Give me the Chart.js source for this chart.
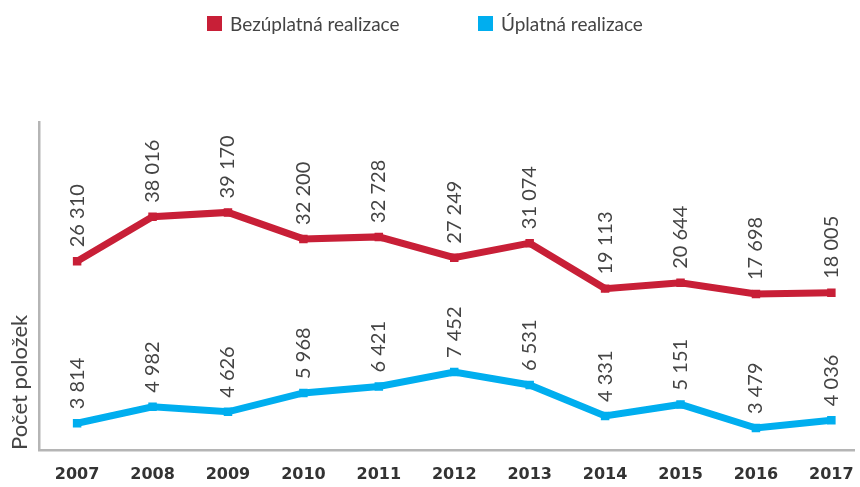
<!DOCTYPE html>
<html>
<head>
<meta charset="utf-8">
<script src="https://cdn.jsdelivr.net/npm/chart.js@4.4.0/dist/chart.umd.min.js"></script>
<style>
  html, body { margin: 0; padding: 0; background: #fff; }
  #wrap { position: relative; width: 860px; height: 487px; overflow: hidden; }
  #legend { position: absolute; top: 12px; left: 207px; font: 19px Lato, sans-serif; color: #444; }
  #legend span.item { position: absolute; white-space: nowrap; display: flex; align-items: center; }
  #legend i { display: inline-block; width: 15px; height: 15px; margin-right: 8px; }
</style>
</head>
<body>
<div id="wrap">
  <canvas id="chart" width="860" height="487"></canvas>
  <div id="legend"></div>
</div>
<script>
// values
const years = [2007, 2008, 2009, 2010, 2011, 2012, 2013, 2014, 2015, 2016, 2017];
const freeTransfers = [26310, 38016, 39170, 32200, 32728, 27249, 31074, 19113, 20644, 17698, 18005];
const paidTransfers = [3814, 4982, 4626, 5968, 6421, 7452, 6531, 4331, 5151, 3479, 4036];
const seriesNames = ["Bezúplatná realizace", "Úplatná realizace"];
const yTitle = "Počet položek";

const RED = "#c81f37";
const BLUE = "#00aeef";
const AXIS = "#b5b5b5";

function fmt(v) {
  return String(v).replace(/\B(?=(\d{3})+(?!\d))/g, " ");
}

// legend (html, two items)
const legendEl = document.getElementById("legend");
[[seriesNames[0], RED, 0], [seriesNames[1], BLUE, 271]].forEach(([name, c, left]) => {
  const s = document.createElement("span");
  s.className = "item";
  s.style.left = left + "px";
  s.innerHTML = '<i style="background:' + c + '"></i>' + name;
  legendEl.appendChild(s);
});

// rotated value labels above every point
const valueLabels = {
  id: "valueLabels",
  afterDatasetsDraw(chart) {
    const ctx = chart.ctx;
    chart.data.datasets.forEach((ds, i) => {
      const meta = chart.getDatasetMeta(i);
      meta.data.forEach((pt, j) => {
        ctx.save();
        ctx.translate(pt.x, pt.y - 14);
        ctx.rotate(-Math.PI / 2);
        ctx.font = "20px Lato";
        ctx.fillStyle = "#444";
        ctx.textAlign = "left";
        ctx.textBaseline = "middle";
        ctx.fillText(fmt(ds.data[j].y), 0, 0);
        ctx.restore();
      });
    });
  },
};

const toPoints = (vals) => vals.map((v, i) => ({ x: years[i], y: v }));

const lineStyle = (c) => ({
  borderColor: c,
  backgroundColor: c,
  borderWidth: 7,
  pointStyle: "rect",
  pointRadius: 6,
  pointBorderWidth: 0,
  pointBackgroundColor: c,
  tension: 0,
});

new Chart(document.getElementById("chart"), {
  type: "line",
  data: {
    datasets: [
      { label: seriesNames[0], data: toPoints(freeTransfers), yAxisID: "y", ...lineStyle(RED) },
      { label: seriesNames[1], data: toPoints(paidTransfers), yAxisID: "y1", ...lineStyle(BLUE) },
    ],
  },
  options: {
    responsive: false,
    animation: false,
    devicePixelRatio: 1,
    layout: { padding: { top: 122, left: 3, right: 0, bottom: 0 } },
    plugins: { legend: { display: false }, tooltip: { enabled: false } },
    scales: {
      x: {
        type: "linear",
        min: 2006.5,
        max: 2017.3,
        afterBuildTicks: (s) => { s.ticks = years.map((v) => ({ value: v })); },
        afterFit: (s) => { s.paddingLeft = 0; s.paddingRight = 0; s.height = 37; },
        grid: { display: false, drawTicks: false },
        border: { display: true, color: AXIS, width: 2.5 },
        ticks: {
          callback: (v) => String(v),
          color: "#333",
          font: { family: "DejaVu Sans", size: 16, weight: "bold" },
          padding: 15,
          maxRotation: 0,
          autoSkip: false,
        },
      },
      y: {
        position: "left",
        min: -23355,
        max: 62961,
        grid: { display: false, drawTicks: false },
        border: { display: true, color: AXIS, width: 2.5 },
        ticks: { display: false },
        title: {
          display: true,
          text: yTitle,
          align: "start",
          color: "#444",
          font: { family: "Lato", size: 22 },
          padding: { top: 4, bottom: 6 },
        },
      },
      y1: {
        display: false,
        min: 1919,
        max: 25181,
      },
    },
  },
  plugins: [valueLabels],
});
</script>
</body>
</html>
